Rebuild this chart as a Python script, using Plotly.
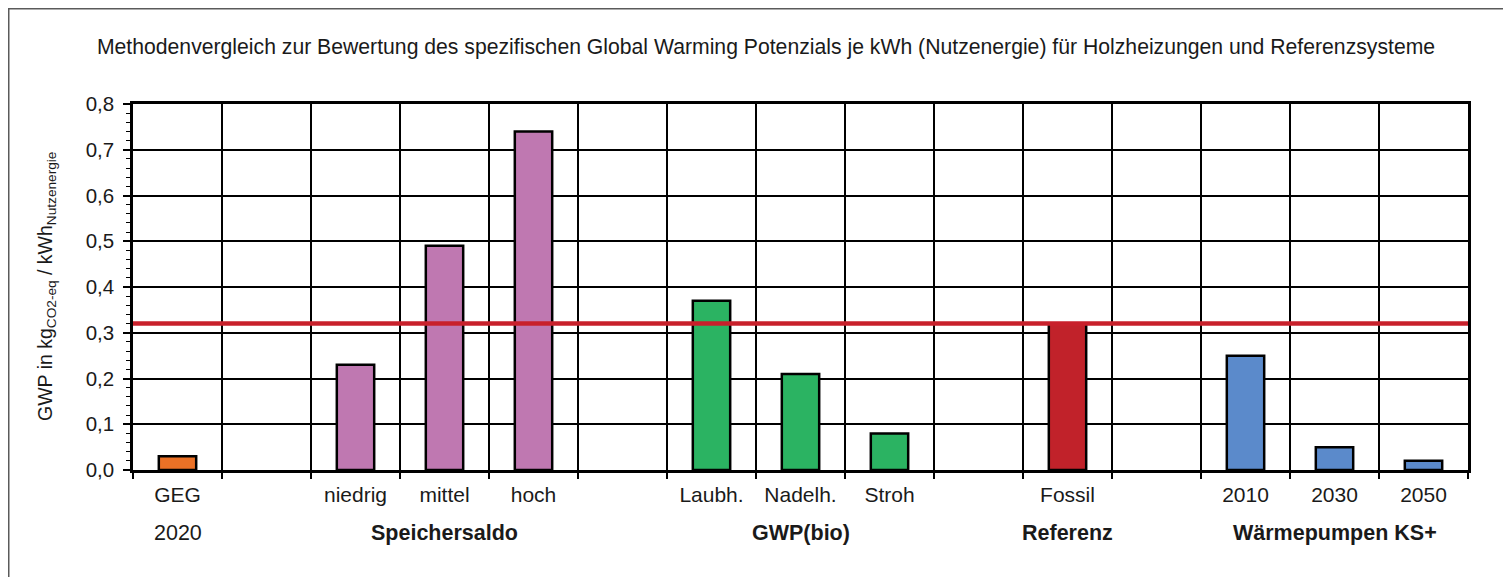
import plotly.graph_objects as go

# ---- data ----
categories = ["GEG", " ", "niedrig", "mittel", "hoch", "  ", "Laubh.", "Nadelh.", "Stroh",
              "   ", "Fossil", "    ", "2010", "2030", "2050"]
gwp_values = [0.03, None, 0.23, 0.49, 0.74, None, 0.37, 0.21, 0.08, None, 0.32, None, 0.25, 0.05, 0.02]
bar_colors = ["#EB7126", "#FFFFFF", "#BF78B1", "#BF78B1", "#BF78B1", "#FFFFFF",
              "#2BB362", "#2BB362", "#2BB362", "#FFFFFF", "#C1222A", "#FFFFFF",
              "#5B8ACB", "#5B8ACB", "#5B8ACB"]
reference_value = 0.32
group_labels = ["2020", "<b>Speichersaldo</b>", "<b>GWP(bio)</b>", "<b>Referenz</b>", "<b>Wärmepumpen KS+</b>"]
group_anchor = ["GEG", "mittel", "Nadelh.", "Fossil", "2030"]
y_ticks = [0.0, 0.1, 0.2, 0.3, 0.4, 0.5, 0.6, 0.7, 0.8]

FONT = "Liberation Sans, Arial, sans-serif"
TXT = "#1a1a1a"

# page has an 8px body margin; figure coordinates = page coordinates - 8
W, H = 1503, 569
ml, mt = 125, 96
mr = W - (1468 - 8)
mb = H - (470 - 8)
pw, ph = W - ml - mr, H - mt - mb

fig = go.Figure()
fig.add_trace(go.Bar(
    x=categories, y=gwp_values, width=0.42,
    marker=dict(color=bar_colors, line=dict(color="black", width=2.5)),
    showlegend=False, hoverinfo="x+y",
))

# reference line
fig.add_shape(type="line", xref="paper", yref="y", x0=0, x1=1,
              y0=reference_value, y1=reference_value,
              line=dict(color="#C8202B", width=4.5), layer="above")

# outer frame (top and left visible)
fig.add_shape(type="rect", xref="paper", yref="paper",
              x0=(0.5 - ml) / pw, x1=1.2, y0=-0.6, y1=1 + (mt - 0.5) / ph,
              line=dict(color="#5a5a5a", width=2), fillcolor="rgba(0,0,0,0)", layer="above")

for lab, anc in zip(group_labels, group_anchor):
    fig.add_annotation(x=categories.index(anc), xref="x", y=(470 - 533) / ph, yref="paper",
                       text=lab, showarrow=False, xanchor="center", yanchor="middle",
                       font=dict(family=FONT, size=21.5, color=TXT))

# y-axis title
fig.add_annotation(x=(38 - ml) / pw, xref="paper", y=(470 - 287) / ph, yref="paper",
                   text="GWP in kg<sub>CO2-eq</sub> / kWh<sub>Nutzenergie</sub>",
                   textangle=-90, showarrow=False, xanchor="center", yanchor="middle",
                   font=dict(family=FONT, size=19.5, color=TXT))

fig.update_layout(
    width=W, height=H,
    margin=dict(l=ml, r=mr, t=mt, b=mb),
    paper_bgcolor="white", plot_bgcolor="white",
    separators=",.",
    font=dict(family=FONT, size=20, color=TXT),
    title=dict(text="Methodenvergleich zur Bewertung des spezifischen Global Warming Potenzials je kWh (Nutzenergie) für Holzheizungen und Referenzsysteme",
               x=758 / W, xanchor="center", y=1 - 39 / H, yanchor="middle",
               font=dict(family=FONT, size=21.2, color=TXT)),
)
fig.update_xaxes(type="category", categoryorder="array", categoryarray=categories,
                 tickson="boundaries", showgrid=True, gridcolor="black", gridwidth=2,
                 ticks="outside", ticklen=6, tickwidth=1.5, tickcolor="black",
                 showline=True, linecolor="black", linewidth=2.5, mirror=True,
                 ticklabelstandoff=4,
                 tickfont=dict(family=FONT, size=21, color=TXT),
                 range=[-0.5, len(categories) - 0.5])
fig.update_yaxes(range=[0, 0.8], tickmode="array", tickvals=y_ticks, tickformat=".1f",
                 showgrid=True, gridcolor="black", gridwidth=1.8, zeroline=False,
                 ticks="outside", ticklen=7, tickwidth=1.5, tickcolor="black",
                 minor=dict(dtick=0.02, ticks="outside", ticklen=4, tickcolor="black",
                            tickwidth=1.2, showgrid=False),
                 showline=True, linecolor="black", linewidth=2.5, mirror=True,
                 ticklabelstandoff=5,
                 tickfont=dict(family=FONT, size=20.5, color=TXT))

fig.write_html("out.html")
